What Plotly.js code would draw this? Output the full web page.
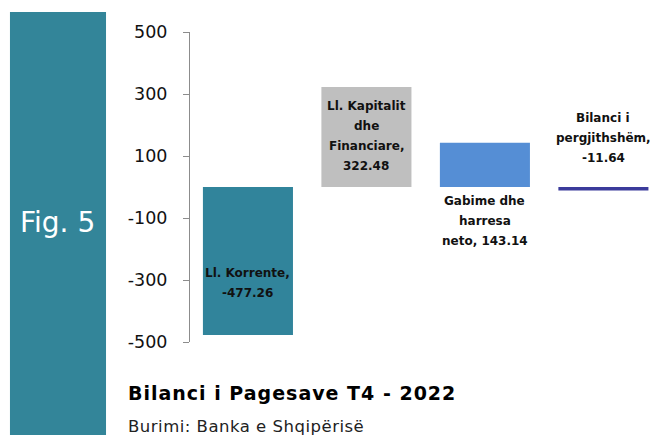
<!DOCTYPE html>
<html>
<head>
<meta charset="utf-8">
<script src="https://cdn.plot.ly/plotly-3.0.1.min.js"></script>
<style>html,body{margin:0;padding:0;background:#fff;}#chart{width:654px;height:435px;}</style>
</head>
<body>
<div id="chart"></div>
<script>
const categories = ["Ll. Korrente", "Ll. Kapitalit dhe Financiare", "Gabime dhe harresa neto", "Bilanci i pergjithshëm"];
const values = [-477.26, 322.48, 143.14, -11.64];
const barColors = ["#31849B", "#BFBFBF", "#558ED5", "#3B3B9B"];
const labelLines = [
  ["Ll. Korrente,", "-477.26"],
  ["Ll. Kapitalit", "dhe", "Financiare,", "322.48"],
  ["Gabime dhe", "harresa", "neto, 143.14"],
  ["Bilanci i", "pergjithshëm,", "-11.64"]
];
const yTicks = [-500, -300, -100, 100, 300, 500];
const chartTitle = "Bilanci i Pagesave T4 - 2022";
const sourceText = "Burimi: Banka e Shqipërisë";
const figLabel = "Fig. 5";

const xIdx = categories.map((c, i) => i);
const trace = {
  type: "bar",
  x: xIdx,
  y: values,
  marker: {color: barColors, line: {width: 0}},
  hoverinfo: "skip"
};

const labelFont = {family: "DejaVu Sans", size: 12, color: "#111"};
const lineStep = 20;
const annotations = [];
// reference value and pixel shift of the first label line
const placements = [
  {ref: 0, shift: -86},            // inside the negative bar
  {ref: values[1], shift: -19},    // inside top of bar
  {ref: 0, shift: -14},            // below the bar
  {ref: 0, shift: 69}              // above the thin bar
];
labelLines.forEach((lines, i) => {
  const p = placements[i];
  lines.forEach((ln, j) => {
    annotations.push({
      x: i, y: p.ref, xref: "x", yref: "y",
      text: "<b>" + ln + "</b>", showarrow: false,
      xanchor: "center", yanchor: "middle",
      yshift: p.shift - j * lineStep,
      font: labelFont
    });
  });
});
annotations.push({
  x: -0.2845, y: 0.387, xref: "paper", yref: "paper",
  text: figLabel, showarrow: false, xanchor: "center", yanchor: "middle",
  font: {family: "DejaVu Sans", size: 28, color: "#ffffff"}
});
annotations.push({
  x: -0.138, y: -0.163, xref: "paper", yref: "paper",
  text: '<span style="letter-spacing:1px"><b>' + chartTitle + '</b></span>', showarrow: false, xanchor: "left", yanchor: "middle",
  font: {family: "DejaVu Sans", size: 19, color: "#000"}
});
annotations.push({
  x: -0.138, y: -0.271, xref: "paper", yref: "paper",
  text: '<span style="letter-spacing:0.5px">' + sourceText + '</span>', showarrow: false, xanchor: "left", yanchor: "middle",
  font: {family: "DejaVu Sans", size: 16.5, color: "#222"}
});

const layout = {
  width: 654, height: 435,
  margin: {l: 190, r: 0, t: 32, b: 93, pad: 0},
  paper_bgcolor: "#ffffff", plot_bgcolor: "#ffffff",
  showlegend: false,
  bargap: 0.24,
  xaxis: {range: [-0.489, 3.427], visible: false, fixedrange: true},
  yaxis: {
    range: [-500, 500], tickvals: yTicks, ticktext: yTicks.map(String),
    showgrid: false, zeroline: false,
    showline: true, linecolor: "#8C8C8C", linewidth: 1,
    ticks: "outside", ticklen: 6, tickcolor: "#8C8C8C", tickwidth: 1,
    ticklabelstandoff: 12,
    tickfont: {family: "DejaVu Sans", size: 17.5, color: "#111"}
  },
  shapes: [{
    type: "rect", xref: "paper", yref: "paper",
    x0: -0.388, x1: -0.181, y0: -0.31, y1: 1.0645,
    fillcolor: "#338599", line: {width: 0}, layer: "below"
  }],
  annotations: annotations
};

Plotly.newPlot("chart", [trace], layout, {displayModeBar: false, staticPlot: true});
</script>
</body>
</html>
